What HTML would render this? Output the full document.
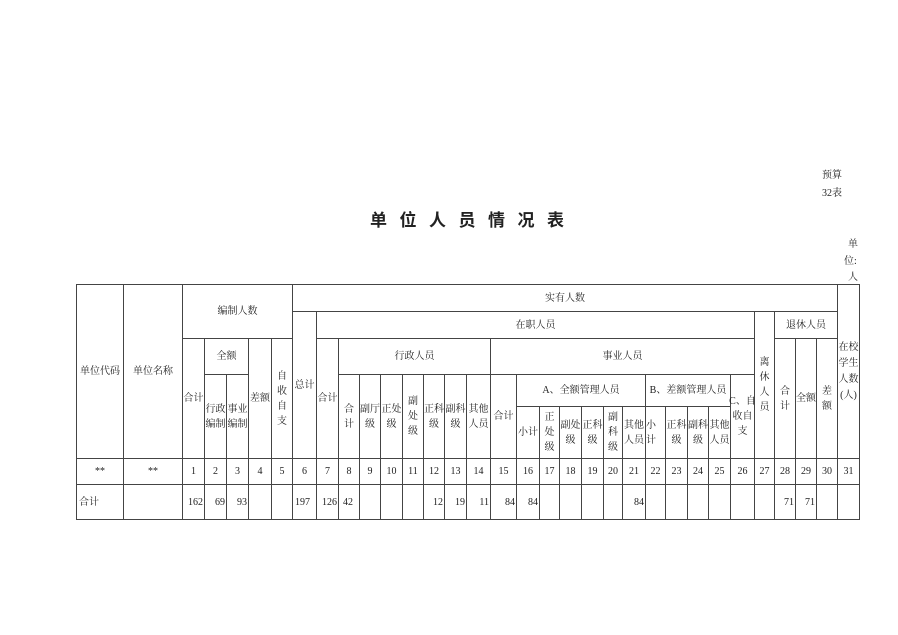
<!DOCTYPE html>
<html><head><meta charset="utf-8"><style>
body{margin:0;background:#fff;width:898px;height:635px;position:relative;overflow:hidden;font-family:"Liberation Serif","Noto Serif CJK SC","Noto Sans CJK SC",serif;color:#222}
.c{position:absolute;box-sizing:border-box;border:1px solid #444;display:flex;align-items:center;justify-content:center;text-align:center;font-size:10px;line-height:15px;white-space:nowrap}
.r{justify-content:flex-end;padding-right:1px}
.l{justify-content:flex-start;padding-left:2px}
.t{position:absolute;font-size:10px;white-space:nowrap}
</style></head><body>
<div class="t" style="left:370px;top:206px;font-size:17px;font-weight:bold;letter-spacing:12.5px;font-family:'Liberation Sans','Noto Sans CJK SC',sans-serif">单位人员情况表</div>
<div class="t" style="left:822px;top:166px">预算</div>
<div class="t" style="left:822px;top:184px">32表</div>
<div class="t" style="left:848px;top:235px">单</div>
<div class="t" style="left:844px;top:252px">位:</div>
<div class="t" style="left:848px;top:268px">人</div>

<div class="c" style="left:76px;top:284px;width:48px;height:175px">单位代码</div>
<div class="c" style="left:123px;top:284px;width:60px;height:175px">单位名称</div>
<div class="c" style="left:182px;top:284px;width:111px;height:55px">编制人数</div>
<div class="c" style="left:182px;top:338px;width:23px;height:121px">合计</div>
<div class="c" style="left:204px;top:338px;width:45px;height:37px">全额</div>
<div class="c" style="left:204px;top:374px;width:23px;height:85px">行政<br>编制</div>
<div class="c" style="left:226px;top:374px;width:23px;height:85px">事业<br>编制</div>
<div class="c" style="left:248px;top:338px;width:24px;height:121px">差额</div>
<div class="c" style="left:271px;top:338px;width:22px;height:121px">自<br>收<br>自<br>支</div>
<div class="c" style="left:292px;top:284px;width:546px;height:28px">实有人数</div>
<div class="c" style="left:292px;top:311px;width:25px;height:148px">总计</div>
<div class="c" style="left:316px;top:311px;width:439px;height:28px">在职人员</div>
<div class="c" style="left:316px;top:338px;width:23px;height:121px">合计</div>
<div class="c" style="left:338px;top:338px;width:153px;height:37px">行政人员</div>
<div class="c" style="left:338px;top:374px;width:22px;height:85px">合<br>计</div>
<div class="c" style="left:359px;top:374px;width:22px;height:85px">副厅<br>级</div>
<div class="c" style="left:380px;top:374px;width:23px;height:85px">正处<br>级</div>
<div class="c" style="left:402px;top:374px;width:22px;height:85px">副<br>处<br>级</div>
<div class="c" style="left:423px;top:374px;width:22px;height:85px">正科<br>级</div>
<div class="c" style="left:444px;top:374px;width:23px;height:85px">副科<br>级</div>
<div class="c" style="left:466px;top:374px;width:25px;height:85px">其他<br>人员</div>
<div class="c" style="left:490px;top:338px;width:265px;height:37px">事业人员</div>
<div class="c" style="left:490px;top:374px;width:27px;height:85px">合计</div>
<div class="c" style="left:516px;top:374px;width:130px;height:33px">A、全额管理人员</div>
<div class="c" style="left:516px;top:406px;width:24px;height:53px">小计</div>
<div class="c" style="left:539px;top:406px;width:21px;height:53px">正<br>处<br>级</div>
<div class="c" style="left:559px;top:406px;width:23px;height:53px">副处<br>级</div>
<div class="c" style="left:581px;top:406px;width:23px;height:53px">正科<br>级</div>
<div class="c" style="left:603px;top:406px;width:20px;height:53px">副<br>科<br>级</div>
<div class="c" style="left:622px;top:406px;width:24px;height:53px">其他<br>人员</div>
<div class="c" style="left:645px;top:374px;width:86px;height:33px">B、差额管理人员</div>
<div class="c l" style="left:645px;top:406px;width:21px;height:53px;padding-left:0">小<br>计</div>
<div class="c" style="left:665px;top:406px;width:23px;height:53px">正科<br>级</div>
<div class="c" style="left:687px;top:406px;width:22px;height:53px">副科<br>级</div>
<div class="c" style="left:708px;top:406px;width:23px;height:53px">其他<br>人员</div>
<div class="c" style="left:730px;top:374px;width:25px;height:85px">C、自<br>收自<br>支</div>
<div class="c" style="left:754px;top:311px;width:21px;height:148px">离<br>休<br>人<br>员</div>
<div class="c" style="left:774px;top:311px;width:64px;height:28px">退休人员</div>
<div class="c" style="left:774px;top:338px;width:22px;height:121px">合<br>计</div>
<div class="c" style="left:795px;top:338px;width:22px;height:121px">全额</div>
<div class="c" style="left:816px;top:338px;width:22px;height:121px">差<br>额</div>
<div class="c" style="left:837px;top:284px;width:23px;height:175px;line-height:16px">在校<br>学生<br>人数<br>(人)</div>

<!-- number row -->
<div class="c" style="left:76px;top:458px;width:48px;height:27px">**</div>
<div class="c" style="left:123px;top:458px;width:60px;height:27px">**</div>
<div class="c" style="left:182px;top:458px;width:23px;height:27px">1</div>
<div class="c" style="left:204px;top:458px;width:23px;height:27px">2</div>
<div class="c" style="left:226px;top:458px;width:23px;height:27px">3</div>
<div class="c" style="left:248px;top:458px;width:24px;height:27px">4</div>
<div class="c" style="left:271px;top:458px;width:22px;height:27px">5</div>
<div class="c" style="left:292px;top:458px;width:25px;height:27px">6</div>
<div class="c" style="left:316px;top:458px;width:23px;height:27px">7</div>
<div class="c" style="left:338px;top:458px;width:22px;height:27px">8</div>
<div class="c" style="left:359px;top:458px;width:22px;height:27px">9</div>
<div class="c" style="left:380px;top:458px;width:23px;height:27px">10</div>
<div class="c" style="left:402px;top:458px;width:22px;height:27px">11</div>
<div class="c" style="left:423px;top:458px;width:22px;height:27px">12</div>
<div class="c" style="left:444px;top:458px;width:23px;height:27px">13</div>
<div class="c" style="left:466px;top:458px;width:25px;height:27px">14</div>
<div class="c" style="left:490px;top:458px;width:27px;height:27px">15</div>
<div class="c" style="left:516px;top:458px;width:24px;height:27px">16</div>
<div class="c" style="left:539px;top:458px;width:21px;height:27px">17</div>
<div class="c" style="left:559px;top:458px;width:23px;height:27px">18</div>
<div class="c" style="left:581px;top:458px;width:23px;height:27px">19</div>
<div class="c" style="left:603px;top:458px;width:20px;height:27px">20</div>
<div class="c" style="left:622px;top:458px;width:24px;height:27px">21</div>
<div class="c" style="left:645px;top:458px;width:21px;height:27px">22</div>
<div class="c" style="left:665px;top:458px;width:23px;height:27px">23</div>
<div class="c" style="left:687px;top:458px;width:22px;height:27px">24</div>
<div class="c" style="left:708px;top:458px;width:23px;height:27px">25</div>
<div class="c" style="left:730px;top:458px;width:25px;height:27px">26</div>
<div class="c" style="left:754px;top:458px;width:21px;height:27px">27</div>
<div class="c" style="left:774px;top:458px;width:22px;height:27px">28</div>
<div class="c" style="left:795px;top:458px;width:22px;height:27px">29</div>
<div class="c" style="left:816px;top:458px;width:22px;height:27px">30</div>
<div class="c" style="left:837px;top:458px;width:23px;height:27px">31</div>

<!-- data row -->
<div class="c l" style="left:76px;top:484px;width:48px;height:36px">合计</div>
<div class="c" style="left:123px;top:484px;width:60px;height:36px"></div>
<div class="c r" style="left:182px;top:484px;width:23px;height:36px">162</div>
<div class="c r" style="left:204px;top:484px;width:23px;height:36px">69</div>
<div class="c r" style="left:226px;top:484px;width:23px;height:36px">93</div>
<div class="c" style="left:248px;top:484px;width:24px;height:36px"></div>
<div class="c" style="left:271px;top:484px;width:22px;height:36px"></div>
<div class="c l" style="left:292px;top:484px;width:25px;height:36px">197</div>
<div class="c r" style="left:316px;top:484px;width:23px;height:36px">126</div>
<div class="c r" style="left:338px;top:484px;width:22px;height:36px;justify-content:flex-start;padding-left:4px">42</div>
<div class="c" style="left:359px;top:484px;width:22px;height:36px"></div>
<div class="c" style="left:380px;top:484px;width:23px;height:36px"></div>
<div class="c" style="left:402px;top:484px;width:22px;height:36px"></div>
<div class="c r" style="left:423px;top:484px;width:22px;height:36px">12</div>
<div class="c r" style="left:444px;top:484px;width:23px;height:36px">19</div>
<div class="c r" style="left:466px;top:484px;width:25px;height:36px">11</div>
<div class="c r" style="left:490px;top:484px;width:27px;height:36px">84</div>
<div class="c r" style="left:516px;top:484px;width:24px;height:36px">84</div>
<div class="c" style="left:539px;top:484px;width:21px;height:36px"></div>
<div class="c" style="left:559px;top:484px;width:23px;height:36px"></div>
<div class="c" style="left:581px;top:484px;width:23px;height:36px"></div>
<div class="c" style="left:603px;top:484px;width:20px;height:36px"></div>
<div class="c r" style="left:622px;top:484px;width:24px;height:36px">84</div>
<div class="c" style="left:645px;top:484px;width:21px;height:36px"></div>
<div class="c" style="left:665px;top:484px;width:23px;height:36px"></div>
<div class="c" style="left:687px;top:484px;width:22px;height:36px"></div>
<div class="c" style="left:708px;top:484px;width:23px;height:36px"></div>
<div class="c" style="left:730px;top:484px;width:25px;height:36px"></div>
<div class="c" style="left:754px;top:484px;width:21px;height:36px"></div>
<div class="c r" style="left:774px;top:484px;width:22px;height:36px">71</div>
<div class="c r" style="left:795px;top:484px;width:22px;height:36px">71</div>
<div class="c" style="left:816px;top:484px;width:22px;height:36px"></div>
<div class="c" style="left:837px;top:484px;width:23px;height:36px"></div>
</body></html>
